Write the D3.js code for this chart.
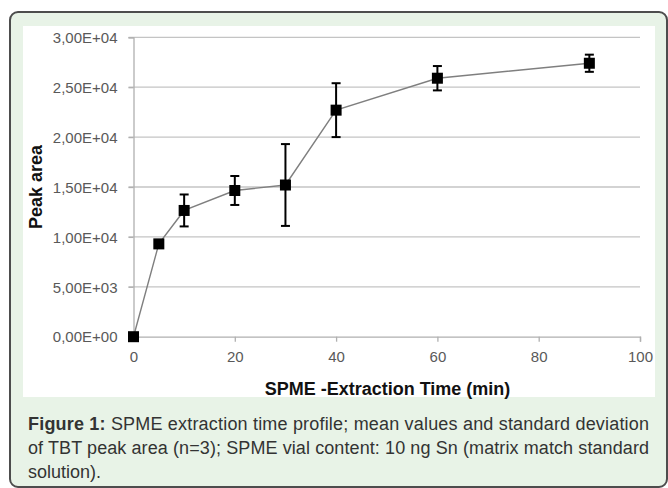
<!DOCTYPE html>
<html>
<head>
<meta charset="utf-8">
<script src="https://cdn.jsdelivr.net/npm/d3@7"></script>
<style>
  body { margin: 0; background: #ffffff; }
  svg { display: block; }
  .tickLabel { font-family: "Liberation Sans", Arial, sans-serif; font-size: 15px; fill: #595959; }
  .axisTitle { font-family: "Liberation Sans", Arial, sans-serif; font-size: 18px; font-weight: bold; fill: #111; }
  .caption { font-family: "Liberation Sans", Arial, sans-serif; font-size: 18px; fill: #333; }
</style>
</head>
<body>
<div id="chart"></div>
<script>
// Chart data
var times = [0, 5, 10, 20, 30, 40, 60, 90];
var peakArea = [0, 9300, 12650, 14650, 15200, 22700, 25900, 27400];
var stdDev = [0, 300, 1600, 1450, 4100, 2700, 1220, 860];

var xTicks = [0, 20, 40, 60, 80, 100];
var yTicks = [0, 5000, 10000, 15000, 20000, 25000, 30000];
var yTickLabels = ["0,00E+00", "5,00E+03", "1,00E+04", "1,50E+04", "2,00E+04", "2,50E+04", "3,00E+04"];

var captionLines = [
  ["Figure 1:", " SPME extraction time profile; mean values and standard deviation"],
  ["", "of TBT peak area (n=3); SPME vial content: 10 ng Sn (matrix match standard"],
  ["", "solution)."]
];

var svgWidth = 668;
var svgHeight = 488;

var margin = {
  top: 37.3,
  right: 28,
  bottom: 151.3,
  left: 133.5
};

var width = svgWidth - margin.left - margin.right;
var height = svgHeight - margin.top - margin.bottom;

var svg = d3.select("#chart")
  .append("svg")
  .attr("width", svgWidth)
  .attr("height", svgHeight);

// Green frame and white plot panel
svg.append("rect")
  .attr("x", 10)
  .attr("y", 12)
  .attr("width", 657)
  .attr("height", 475)
  .attr("rx", 8)
  .attr("fill", "#e8f3e7")
  .attr("stroke", "#4d4d4d")
  .attr("stroke-width", 2);

svg.append("rect")
  .attr("x", 23)
  .attr("y", 26)
  .attr("width", 632)
  .attr("height", 371)
  .attr("fill", "#ffffff");

var chartGroup = svg.append("g")
  .attr("transform", `translate(${margin.left}, ${margin.top})`);

var data = times.map(function(t, i) {
  return { time: t, area: peakArea[i], sd: stdDev[i] };
});

var xLinearScale = d3.scaleLinear()
  .domain([0, 100])
  .range([0, width]);

var yLinearScale = d3.scaleLinear()
  .domain([0, 30000])
  .range([height, 0]);

// Gridlines
chartGroup.append("g")
  .selectAll("line")
  .data(yTicks.slice(1))
  .enter()
  .append("line")
  .attr("x1", -5)
  .attr("x2", width)
  .attr("y1", d => yLinearScale(d))
  .attr("y2", d => yLinearScale(d))
  .attr("stroke", "#c4c4c4")
  .attr("stroke-width", 1.3);

// Axes
var bottomAxis = d3.axisBottom(xLinearScale)
  .tickValues(xTicks)
  .tickSize(5)
  .tickPadding(10);

var leftAxis = d3.axisLeft(yLinearScale)
  .tickValues(yTicks)
  .tickSize(5)
  .tickPadding(11)
  .tickFormat((d, i) => yTickLabels[i]);

var xAxisGroup = chartGroup.append("g")
  .attr("transform", `translate(0, ${height})`)
  .call(bottomAxis);

var yAxisGroup = chartGroup.append("g")
  .call(leftAxis);

[xAxisGroup, yAxisGroup].forEach(function(g) {
  g.select(".domain").attr("stroke", "#b0b0b0").attr("stroke-width", 1.3);
  g.selectAll(".tick line").attr("stroke", "#b0b0b0").attr("stroke-width", 1.3);
  g.selectAll(".tick text").attr("class", "tickLabel").attr("font-size", null).attr("font-family", null);
});
yAxisGroup.selectAll(".tick text").attr("dy", "0.35em");

// Connecting line
var line = d3.line()
  .x(d => xLinearScale(d.time))
  .y(d => yLinearScale(d.area));

chartGroup.append("path")
  .datum(data)
  .attr("d", line)
  .attr("fill", "none")
  .attr("stroke", "#7f7f7f")
  .attr("stroke-width", 1.4);

// Error bars
var errGroup = chartGroup.selectAll(".err")
  .data(data.filter(d => d.sd > 0))
  .enter()
  .append("g")
  .attr("class", "err")
  .attr("stroke", "#000")
  .attr("stroke-width", 2);

errGroup.append("line")
  .attr("x1", d => xLinearScale(d.time))
  .attr("x2", d => xLinearScale(d.time))
  .attr("y1", d => yLinearScale(d.area + d.sd))
  .attr("y2", d => yLinearScale(d.area - d.sd));

errGroup.append("line")
  .attr("x1", d => xLinearScale(d.time) - 4.5)
  .attr("x2", d => xLinearScale(d.time) + 4.5)
  .attr("y1", d => yLinearScale(d.area + d.sd))
  .attr("y2", d => yLinearScale(d.area + d.sd));

errGroup.append("line")
  .attr("x1", d => xLinearScale(d.time) - 4.5)
  .attr("x2", d => xLinearScale(d.time) + 4.5)
  .attr("y1", d => yLinearScale(d.area - d.sd))
  .attr("y2", d => yLinearScale(d.area - d.sd));

// Square markers
chartGroup.selectAll(".marker")
  .data(data)
  .enter()
  .append("rect")
  .attr("class", "marker")
  .attr("x", d => xLinearScale(d.time) - 5.5)
  .attr("y", d => yLinearScale(d.area) - 5.5)
  .attr("width", 11)
  .attr("height", 11)
  .attr("fill", "#000");

// Axis titles
chartGroup.append("text")
  .attr("class", "axisTitle")
  .attr("transform", `translate(${42 - margin.left}, ${height / 2}) rotate(-90)`)
  .attr("text-anchor", "middle")
  .text("Peak area");

chartGroup.append("text")
  .attr("class", "axisTitle")
  .attr("x", 387.5 - margin.left)
  .attr("y", height + 58)
  .attr("text-anchor", "middle")
  .text("SPME -Extraction Time (min)");

// Caption
var caption = svg.append("text")
  .attr("class", "caption");

captionLines.forEach(function(parts, i) {
  var t = caption.append("tspan")
    .attr("x", 28)
    .attr("y", 430 + i * 24);
  if (i < 2) {
    t.attr("textLength", 621).attr("lengthAdjust", "spacing");
  }
  if (parts[0]) {
    t.append("tspan").attr("font-weight", "bold").text(parts[0]);
  }
  t.append("tspan").text(parts[1]);
});
</script>
</body>
</html>
